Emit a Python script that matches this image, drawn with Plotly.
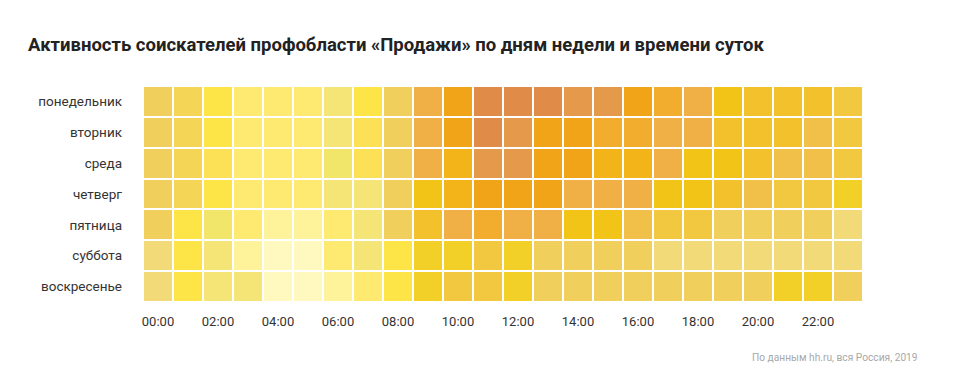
import plotly.graph_objects as go

days = ["понедельник", "вторник", "среда", "четверг", "пятница", "суббота", "воскресенье"]
hours = [f"{h:02d}:00" for h in range(24)]
tick_hours = [f"{h:02d}:00" for h in range(0, 24, 2)]

# activity level per cell (0 = lowest, 20 = highest)
mon = [8, 9, 7, 2, 2, 2, 3, 7, 8, 16, 18, 20, 20, 20, 19, 19, 18, 17, 16, 13, 12, 12, 12, 11]
tue = [8, 9, 7, 2, 2, 2, 3, 6, 8, 16, 18, 20, 19, 18, 18, 17, 17, 16, 16, 12, 12, 12, 14, 11]
wed = [8, 9, 6, 2, 2, 2, 4, 6, 8, 16, 15, 19, 19, 18, 18, 15, 15, 16, 13, 13, 12, 14, 14, 11]
thu = [8, 9, 7, 2, 2, 2, 3, 3, 8, 13, 15, 18, 18, 18, 16, 16, 16, 13, 13, 12, 14, 11, 11, 10]
fri = [8, 7, 4, 2, 1, 1, 2, 3, 8, 12, 16, 17, 16, 16, 13, 13, 14, 11, 11, 8, 8, 8, 8, 5]
sat = [5, 7, 3, 1, 0, 0, 2, 3, 7, 10, 10, 11, 10, 8, 8, 8, 8, 5, 5, 5, 5, 5, 5, 5]
sun = [5, 7, 3, 3, 0, 0, 1, 2, 7, 10, 11, 11, 10, 8, 8, 8, 8, 8, 8, 8, 8, 10, 10, 8]
activity_level = [mon, tue, wed, thu, fri, sat, sun]

palette = [
    "#FFF9C0", "#FEF39A", "#FEEA70", "#F5E577", "#F2E66A", "#F2DA78",
    "#FCE055", "#FDE447", "#F1CF5D", "#F5D555", "#F2D028", "#F2C840",
    "#F2C12C", "#F2C418", "#F0C048", "#F2B418", "#F0B045", "#F2AC2E",
    "#F2A418", "#E49A4A", "#E08C48",
]
n = len(palette)
colorscale = []
for i, c in enumerate(palette):
    colorscale.append([i / n, c])
    colorscale.append([(i + 1) / n, c])

fig = go.Figure(go.Heatmap(
    z=activity_level, x=hours, y=days,
    colorscale=colorscale, zmin=-0.5, zmax=n - 0.5,
    showscale=False, xgap=2, ygap=2, hoverongaps=False,
))

# page body has an 8px default margin; compensate so the figure matches the window layout
OFF = 8
W, H = 957 - OFF, 380 - OFF
L, T = 143 - OFF, 86 - OFF
PW, PH = 720, 216
R, B = W - L - PW, H - T - PH
fig.update_layout(
    width=W, height=H,
    margin=dict(l=L, r=R, t=T, b=B, autoexpand=False),
    paper_bgcolor="white", plot_bgcolor="white",
    font=dict(family="Roboto, sans-serif", size=13, color="#333333"),
    title=dict(
        text="<b>Активность соискателей профобласти «Продажи» по дням недели и времени суток</b>",
        x=(28 - OFF) / W, xanchor="left", xref="container",
        y=1 - (45 - OFF) / H, yanchor="middle", yref="container",
        font=dict(family="Roboto, sans-serif", size=18.5, color="#222222"),
    ),
    annotations=[dict(
        text="По данным hh.ru, вся Россия, 2019",
        xref="paper", yref="paper",
        x=(920 - 143) / PW, y=(302 - 357) / PH,
        xanchor="right", yanchor="middle", showarrow=False,
        font=dict(family="Roboto, sans-serif", size=10.2, color="#A8A8A8"),
    )],
)
fig.update_xaxes(
    type="category", tickvals=tick_hours, ticktext=tick_hours,
    showgrid=False, zeroline=False, showline=False, ticks="",
    ticklabelstandoff=10, tickfont=dict(size=13, color="#333333"),
)
fig.update_yaxes(
    type="category", autorange="reversed",
    showgrid=False, zeroline=False, showline=False, ticks="",
    ticklabelstandoff=20, tickfont=dict(size=13.5, color="#333333"),
)

fig.write_html("out.html")
